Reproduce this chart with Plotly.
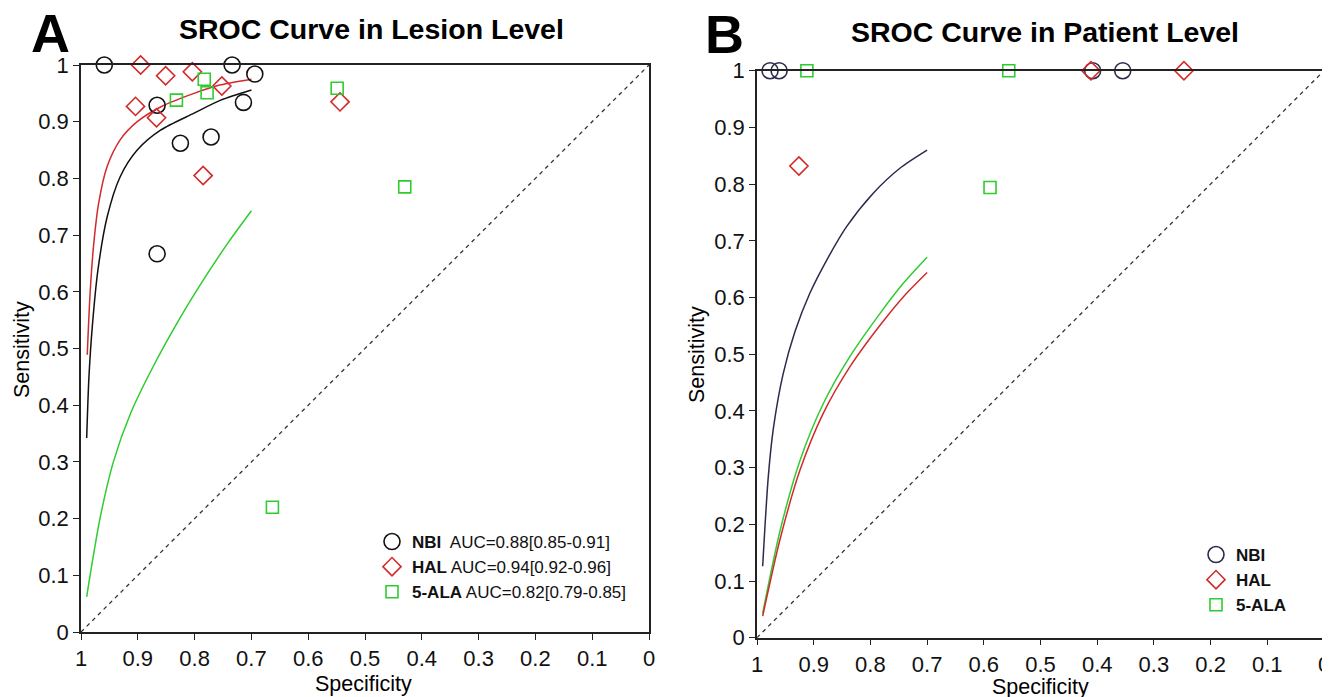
import plotly.graph_objects as go

# page offset of the plot div (browser body margin) and figure size
OX, OY = 8, 8
FW, FH = 1322, 689

# ---------------- Panel A: lesion level ----------------
a_nbi_spec = [0.959, 0.734, 0.694, 0.866, 0.714, 0.825, 0.771, 0.866]
a_nbi_sens = [1.000, 1.000, 0.984, 0.929, 0.934, 0.862, 0.873, 0.667]
a_hal_spec = [0.895, 0.851, 0.804, 0.752, 0.904, 0.867, 0.785, 0.544]
a_hal_sens = [1.000, 0.981, 0.988, 0.963, 0.927, 0.907, 0.805, 0.935]
a_ala_spec = [0.783, 0.778, 0.832, 0.549, 0.430, 0.663]
a_ala_sens = [0.975, 0.951, 0.938, 0.959, 0.785, 0.220]

a_hal_curve_spec = [0.989, 0.984, 0.978, 0.969, 0.954, 0.931, 0.901, 0.860, 0.801, 0.754, 0.700]
a_hal_curve_sens = [0.489, 0.597, 0.680, 0.756, 0.821, 0.868, 0.900, 0.926, 0.950, 0.965, 0.975]
a_nbi_curve_spec = [0.990, 0.986, 0.980, 0.970, 0.954, 0.931, 0.901, 0.860, 0.801, 0.754, 0.700]
a_nbi_curve_sens = [0.342, 0.450, 0.540, 0.640, 0.732, 0.803, 0.850, 0.885, 0.915, 0.938, 0.956]
a_ala_curve_spec = [0.990, 0.984, 0.966, 0.943, 0.913, 0.872, 0.825, 0.780, 0.740, 0.700]
a_ala_curve_sens = [0.062, 0.100, 0.203, 0.300, 0.385, 0.470, 0.555, 0.628, 0.688, 0.743]

a_legend = ["<b>NBI</b>  AUC=0.88[0.85-0.91]",
            "<b>HAL</b> AUC=0.94[0.92-0.96]",
            "<b>5-ALA</b> AUC=0.82[0.79-0.85]"]

# ---------------- Panel B: patient level ----------------
b_nbi_spec = [0.977, 0.961, 0.408, 0.355]
b_nbi_sens = [1.0, 1.0, 1.0, 1.0]
b_hal_spec = [0.926, 0.411, 0.247]
b_hal_sens = [0.832, 1.0, 1.0]
b_ala_spec = [0.912, 0.556, 0.589]
b_ala_sens = [1.0, 1.0, 0.794]

b_nbi_curve_spec = [0.990, 0.980, 0.971, 0.954, 0.933, 0.907, 0.877, 0.842, 0.795, 0.748, 0.700]
b_nbi_curve_sens = [0.126, 0.285, 0.370, 0.465, 0.540, 0.607, 0.666, 0.725, 0.784, 0.828, 0.860]
b_ala_curve_spec = [0.990, 0.959, 0.924, 0.883, 0.836, 0.783, 0.742, 0.700]
b_ala_curve_sens = [0.043, 0.190, 0.313, 0.413, 0.496, 0.572, 0.625, 0.671]
b_hal_curve_spec = [0.990, 0.959, 0.924, 0.883, 0.836, 0.783, 0.742, 0.700]
b_hal_curve_sens = [0.038, 0.175, 0.296, 0.396, 0.478, 0.551, 0.601, 0.644]

b_legend = ["<b>NBI</b>", "<b>HAL</b>", "<b>5-ALA</b>"]

diag_spec = [1, 0]
diag_sens = [0, 1]
ticks = [0, 0.1, 0.2, 0.3, 0.4, 0.5, 0.6, 0.7, 0.8, 0.9, 1]
tick_text = ["0", "0.1", "0.2", "0.3", "0.4", "0.5", "0.6", "0.7", "0.8", "0.9", "1"]

BLACK = "#111111"
NAVY = "#2b2b4d"
RED = "#d22a2a"
GREEN = "#2fcc2f"
FONT = "Liberation Sans, Arial, sans-serif"


def px(x):
    return (x - OX) / FW


def py(y):
    return 1 - (y - OY) / FH


fig = go.Figure()


def curve(x, y, color, xa, ya):
    fig.add_trace(go.Scatter(x=x, y=y, mode="lines",
                             line=dict(color=color, width=1.5, shape="spline", smoothing=0.8),
                             xaxis=xa, yaxis=ya, showlegend=False, hoverinfo="skip"))


def pts(x, y, color, symbol, size, name, xa, ya, legend):
    fig.add_trace(go.Scatter(x=x, y=y, mode="markers", name=name, cliponaxis=False,
                             marker=dict(symbol=symbol, size=size, color=color,
                                         line=dict(color=color, width=1.6)),
                             xaxis=xa, yaxis=ya, legend=legend))


# Panel A
fig.add_trace(go.Scatter(x=diag_spec, y=diag_sens, mode="lines", line=dict(color="#333333", width=1.3, dash="4px,4px"),
                         xaxis="x", yaxis="y", showlegend=False, hoverinfo="skip"))
curve(a_nbi_curve_spec, a_nbi_curve_sens, BLACK, "x", "y")
curve(a_hal_curve_spec, a_hal_curve_sens, RED, "x", "y")
curve(a_ala_curve_spec, a_ala_curve_sens, GREEN, "x", "y")
pts(a_nbi_spec, a_nbi_sens, BLACK, "circle-open", 16, a_legend[0], "x", "y", "legend")
pts(a_hal_spec, a_hal_sens, RED, "diamond-open", 14, a_legend[1], "x", "y", "legend")
pts(a_ala_spec, a_ala_sens, GREEN, "square-open", 12, a_legend[2], "x", "y", "legend")

# Panel B
fig.add_trace(go.Scatter(x=diag_spec, y=diag_sens, mode="lines", line=dict(color="#333333", width=1.3, dash="4px,4px"),
                         xaxis="x2", yaxis="y2", showlegend=False, hoverinfo="skip"))
curve(b_nbi_curve_spec, b_nbi_curve_sens, NAVY, "x2", "y2")
curve(b_ala_curve_spec, b_ala_curve_sens, GREEN, "x2", "y2")
curve(b_hal_curve_spec, b_hal_curve_sens, RED, "x2", "y2")
pts(b_nbi_spec, b_nbi_sens, NAVY, "circle-open", 16, b_legend[0], "x2", "y2", "legend2")
pts(b_hal_spec, b_hal_sens, RED, "diamond-open", 14, b_legend[1], "x2", "y2", "legend2")
pts(b_ala_spec, b_ala_sens, GREEN, "square-open", 12, b_legend[2], "x2", "y2", "legend2")


def axis(domain, anchor, rng):
    return dict(domain=domain, anchor=anchor, range=rng, tickvals=ticks, ticktext=tick_text,
                automargin=False, ticklabeloverflow="allow", showgrid=False, zeroline=False, showline=True,
                linecolor="#222222", linewidth=1.5, mirror=True, ticks="outside", ticklen=6,
                tickwidth=1.3, tickcolor="#222222",
                tickfont=dict(family=FONT, size=22, color="#111111"))


fig.update_layout(
    width=FW, height=FH, margin=dict(l=0, r=0, t=0, b=0, autoexpand=False),
    paper_bgcolor="white", plot_bgcolor="white",
    xaxis=axis([px(81), px(649)], "y", [1, 0]),
    yaxis=axis([py(632), py(65)], "x", [0, 1]),
    xaxis2=axis([px(757), px(1324)], "y2", [1, 0]),
    yaxis2=axis([py(637.7), py(70.7)], "x2", [0, 1]),
    legend=dict(x=px(372), y=py(524), xanchor="left", yanchor="top", bgcolor="rgba(0,0,0,0)",
                font=dict(family=FONT, size=17, color="#111111"), tracegroupgap=0, itemwidth=30),
    legend2=dict(x=px(1196), y=py(537), xanchor="left", yanchor="top", bgcolor="rgba(0,0,0,0)",
                 font=dict(family=FONT, size=17, color="#111111"), tracegroupgap=0, itemwidth=30),
    showlegend=True,
)


def ann(text, x, y, size, bold=False, angle=0):
    fig.add_annotation(text=f"<b>{text}</b>" if bold else text, x=px(x), y=py(y), xref="paper", yref="paper",
                       showarrow=False, textangle=angle, xanchor="center", yanchor="middle",
                       font=dict(family=FONT, size=size, color="#000000"))


ann("A", 50, 33, 54, bold=True)
ann("B", 724, 34, 54, bold=True)
ann("SROC Curve in Lesion Level", 371, 29, 28.5, bold=True)
ann("SROC Curve in Patient Level", 1045, 32, 28.5, bold=True)
ann("Specificity", 363, 684, 21.5)
ann("Specificity", 1040, 687, 21.5)
ann("Sensitivity", 22, 350, 21.5, angle=-90)
ann("Sensitivity", 697, 355, 21.5, angle=-90)

fig.write_html("out.html")
